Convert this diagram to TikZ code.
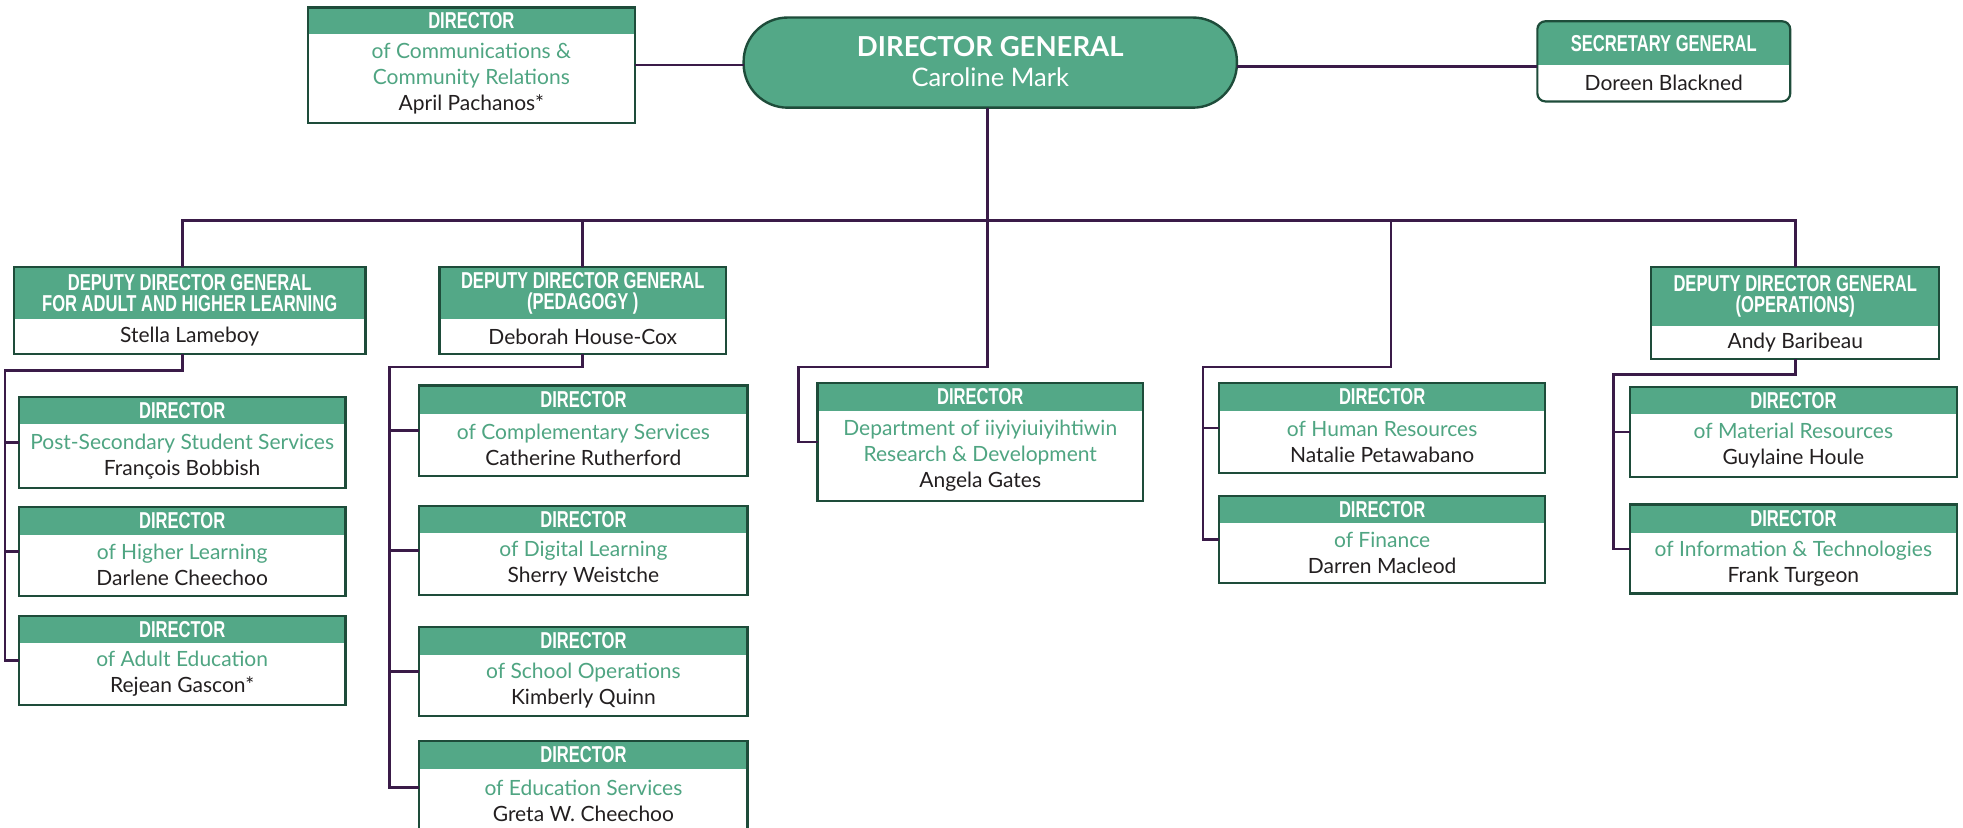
\documentclass[tikz,border=0pt]{standalone}
\usepackage{fontspec}
\setmainfont{Lato}
\newfontfamily\hdrfont[FakeStretch=0.72]{Liberation Sans}
\usetikzlibrary{fit}
\definecolor{hdr}{RGB}{83,168,135}
\definecolor{tgreen}{RGB}{79,165,130}
\definecolor{bord}{RGB}{30,76,58}
\definecolor{lnc}{RGB}{58,27,72}
\definecolor{ink}{RGB}{35,31,32}
\newcommand\gr[1]{\textcolor{tgreen}{#1}}
\tikzset{
  connline/.style={draw=lnc, line width=2.6pt},
  framebox/.style={inner sep=0pt, outer sep=0pt, fill=white},
  borderline/.style={draw=bord, line width=2.2pt},
  hdrtext/.style={text=white, align=center, inner sep=0pt, font=\hdrfont\bfseries\fontsize{23}{21}\selectfont},
  bodytext/.style={text=ink, align=center, inner sep=0pt, font=\fontsize{21}{26}\selectfont},
}
\newcommand\orgbox[8]{%
  \node[framebox, fit={(#2,#3)(#4,#5)}] (#1) {};
  \fill[hdr] (#1.north west) rectangle (#4,#6);
  \draw[borderline] (#1.north west) rectangle (#1.south east);
  \node[hdrtext] (#1h) at ({(#2+#4)/2},{(#3+#6)/2}) {#7};
  \node[bodytext] (#1b) at ({(#2+#4)/2},{(#6+#5)/2}) {#8};
}
\begin{document}
\begin{tikzpicture}[x=1.2519pt,y=-1.2519pt]
\useasboundingbox[fill=white] (0,0) rectangle (1568,661);

% --- director general
\node[fit={(594,14)(988,86)}, inner sep=0pt, outer sep=0pt, fill=hdr, draw=bord, line width=2.4pt, rounded corners=44pt] (dg) {};
\node[text=white, inner sep=0pt, font=\bfseries\fontsize{27.5}{27}\selectfont] (dgt) at (791,37) {DIRECTOR GENERAL};
\node[text=white, inner sep=0pt, font=\fontsize{25.5}{25}\selectfont] (dgn) at (791,62) {Caroline Mark};

\coordinate (busL) at (146,176);
\coordinate (k1) at (789,293);
\coordinate (k1l) at (638,293);
\coordinate (k2) at (1111,293);
\coordinate (k2l) at (961,293);
\coordinate (g1) at (4,296);
\coordinate (g2) at (311,293);
\coordinate (g3) at (1289,299);
\coordinate (sgl) at (1228,53);

% --- boxes
\orgbox{comm}{246}{6}{507}{98}{27}{DIRECTOR}{\gr{of Communications \&}\\\gr{Community Relations}\\April Pachanos*}

\begin{scope}
  \clip[rounded corners=8pt] (1228,17) rectangle (1430,81);
  \fill[white] (1228,17) rectangle (1430,81);
  \fill[hdr] (1228,17) rectangle (1430,52);
\end{scope}
\node[fit={(1228,17)(1430,81)}, inner sep=0pt, outer sep=0pt, draw=bord, line width=2.2pt, rounded corners=8pt] (sg) {};
\node[hdrtext] (sgh) at (1329,34.5) {SECRETARY GENERAL};
\node[bodytext] (sgb) at (1329,66.5) {Doreen Blackned};

\orgbox{ddga}{11}{213}{292}{283}{255}{DEPUTY DIRECTOR GENERAL\\FOR ADULT AND HIGHER LEARNING}{Stella Lameboy}
\orgbox{ddgb}{351}{213}{580}{283}{255}{DEPUTY DIRECTOR GENERAL\\(PEDAGOGY )}{Deborah House-Cox}
\orgbox{ddgc}{1319}{213}{1549}{287}{260}{DEPUTY DIRECTOR GENERAL\\(OPERATIONS)}{Andy Baribeau}

\orgbox{ps}{15}{317}{276}{390}{339}{DIRECTOR}{\gr{Post-Secondary Student Services}\\François Bobbish}
\orgbox{hl}{15}{405}{276}{476}{427}{DIRECTOR}{\gr{of Higher Learning}\\Darlene Cheechoo}
\orgbox{ae}{15}{492}{276}{563}{514}{DIRECTOR}{\gr{of Adult Education}\\Rejean Gascon*}

\orgbox{cs}{335}{308}{597}{380}{331}{DIRECTOR}{\gr{of Complementary Services}\\Catherine Rutherford}
\orgbox{dl}{335}{404}{597}{475}{426}{DIRECTOR}{\gr{of Digital Learning}\\Sherry Weistche}
\orgbox{so}{335}{501}{597}{572}{523}{DIRECTOR}{\gr{of School Operations}\\Kimberly Quinn}
\orgbox{es}{335}{592}{597}{666}{614}{DIRECTOR}{\gr{of Education Services}\\Greta W. Cheechoo}

\orgbox{dept}{653}{306}{913}{400}{328}{DIRECTOR}{\gr{Department of iiyiyiuiyihtiwin}\\\gr{Research \& Development}\\Angela Gates}

\orgbox{hr}{974}{306}{1234}{378}{328}{DIRECTOR}{\gr{of Human Resources}\\Natalie Petawabano}
\orgbox{fin}{974}{396}{1234}{466}{418}{DIRECTOR}{\gr{of Finance}\\Darren Macleod}

\orgbox{mr}{1302}{309}{1563}{381}{331}{DIRECTOR}{\gr{of Material Resources}\\Guylaine Houle}
\orgbox{it}{1302}{403}{1563}{474}{426}{DIRECTOR}{\gr{of Information \& Technologies}\\Frank Turgeon}

% --- connectors
\begin{scope}[connline]
  \draw (comm.east) -- (comm.east -| dg.west);
  \draw (dg.east |- sgl) -- (sg.west |- sgl);
  \draw (dg.south -| k1) -- (k1) -- (k1l) |- (dept.west);
  \draw (ddga.north -| busL) -- (busL) -- (busL -| ddgc.north) -- (ddgc.north);
  \draw (ddgb.north |- busL) -- (ddgb.north);
  \draw (k2 |- busL) -- (k2) -- (k2l) |- (fin.west);
  \draw (k2l |- hr.west) -- (hr.west);
  \draw (ddga.south -| busL) -- (busL |- g1) -- (g1) |- (ae.west);
  \draw (g1 |- ps.west) -- (ps.west);
  \draw (g1 |- hl.west) -- (hl.west);
  \draw (ddgb.south) -- (ddgb.south |- g2) -- (g2) |- (es.west);
  \draw (g2 |- cs.west) -- (cs.west);
  \draw (g2 |- dl.west) -- (dl.west);
  \draw (g2 |- so.west) -- (so.west);
  \draw (ddgc.south) -- (ddgc.south |- g3) -- (g3) |- (it.west);
  \draw (g3 |- mr.west) -- (mr.west);
\end{scope}
\end{tikzpicture}
\end{document}
